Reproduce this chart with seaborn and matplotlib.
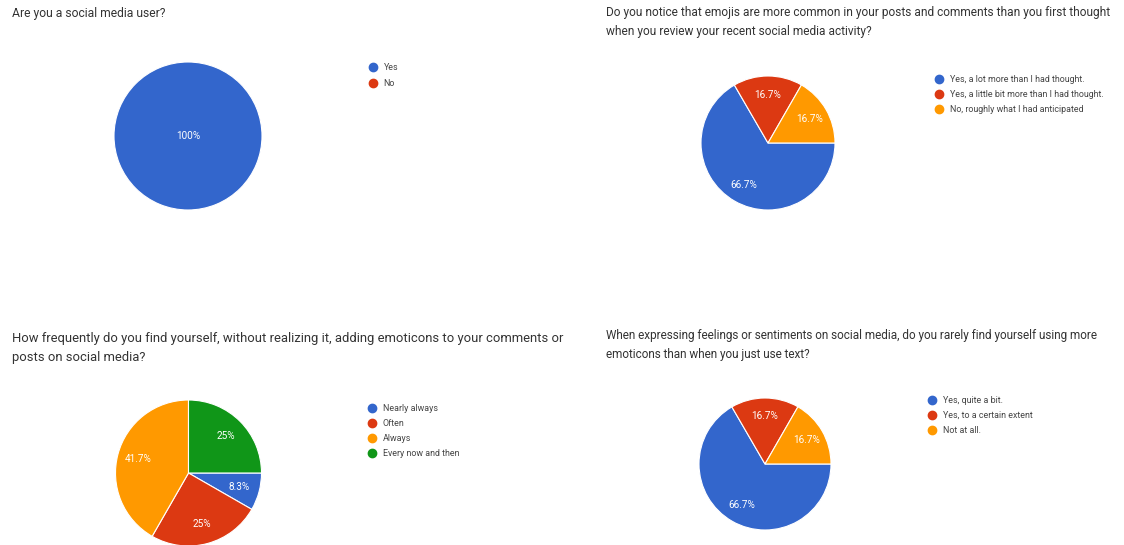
import matplotlib
matplotlib.use("Agg")
import matplotlib.pyplot as plt
from matplotlib.lines import Line2D
import seaborn as sns

# ---------------- data ----------------
q1_title = "Are you a social media user?"
q1_labels = ["Yes", "No"]
q1_values = [100.0, 0.0]

q2_title = ("Do you notice that emojis are more common in your posts and comments than you first thought\n"
            "when you review your recent social media activity?")
q2_labels = ["Yes, a lot more than I had thought.", "Yes, a little bit more than I had thought.",
             "No, roughly what I had anticipated"]
q2_values = [66.7, 16.7, 16.7]

q3_title = ("How frequently do you find yourself, without realizing it, adding emoticons to your comments or\n"
            "posts on social media?")
q3_labels = ["Nearly always", "Often", "Always", "Every now and then"]
q3_values = [8.3, 25.0, 41.7, 25.0]

q4_title = ("When expressing feelings or sentiments on social media, do you rarely find yourself using more\n"
            "emoticons than when you just use text?")
q4_labels = ["Yes, quite a bit.", "Yes, to a certain extent", "Not at all."]
q4_values = [66.7, 16.7, 16.7]

colors = ["#3366CC", "#DC3912", "#FF9900", "#109618"]

# ---------------- style ----------------
sns.set_theme(style="white")
plt.rcParams["font.family"] = ["Roboto", "DejaVu Sans"]

W, H = 1124, 545
fig = plt.figure(figsize=(W / 100, H / 100), dpi=100)
fig.patch.set_facecolor("white")


def fx(px):
    return px / W


def fy(py):
    return 1 - py / H


def fmt(v):
    s = f"{v:.1f}"
    if s.endswith(".0"):
        s = s[:-2]
    return s + "%"


def draw(title, labels, values, tx, ty, tfs, tls, cx, cy, r, lx, ly, rowgap, center_label=False):
    fig.text(fx(tx), fy(ty), title, ha="left", va="top", fontsize=tfs,
             color="#333333", linespacing=tls)
    ax = fig.add_axes([fx(cx - r), fy(cy + r), 2 * r / W, 2 * r / H])
    pal = sns.color_palette(colors[:len(labels)])
    vals = [v for v in values if v > 0]
    cols = [pal[i] for i, v in enumerate(values) if v > 0]
    wedges, texts, autotexts = ax.pie(
        vals, colors=cols, startangle=0, counterclock=False,
        autopct=lambda p: "", pctdistance=0.0 if center_label else 0.72,
        wedgeprops=dict(edgecolor="white", linewidth=0.8))
    shown = [fmt(v) for v in values if v > 0]
    for t, s in zip(autotexts, shown):
        t.set_text(s)
        t.set_color("white")
        t.set_fontsize(7.2)
    ax.set_xlim(-1.0, 1.0)
    ax.set_ylim(-1.0, 1.0)
    ax.set_aspect("auto")
    ax.axis("off")
    handles = [Line2D([0], [0], marker="o", linestyle="none", markersize=6,
                      markerfacecolor=pal[i], markeredgecolor=pal[i]) for i in range(len(labels))]
    fs = 6.4
    fpx = fs * 100 / 72
    leg = fig.legend(handles, labels, loc="upper left",
                     bbox_to_anchor=(fx(lx), fy(ly)), bbox_transform=fig.transFigure,
                     frameon=False, fontsize=fs, borderpad=0, borderaxespad=0,
                     handlelength=1.0, handletextpad=0.65,
                     labelspacing=(rowgap - 9.1) / fpx)
    for t in leg.get_texts():
        t.set_color("#444444")


draw(q1_title, q1_labels, q1_values, 12, 7, 8.7, 1.55, 188, 136, 74, 369, 63, 16, center_label=True)
draw(q2_title, q2_labels, q2_values, 606, 6, 8.6, 1.55, 768, 143, 67, 935, 75, 15)
draw(q3_title, q3_labels, q3_values, 12, 332, 9.4, 1.55, 188.5, 473, 73, 368, 404, 15)
draw(q4_title, q4_labels, q4_values, 606, 329, 8.5, 1.6, 765, 464, 66, 928, 396, 15)

fig.savefig("out.png", dpi=100, facecolor="white")
